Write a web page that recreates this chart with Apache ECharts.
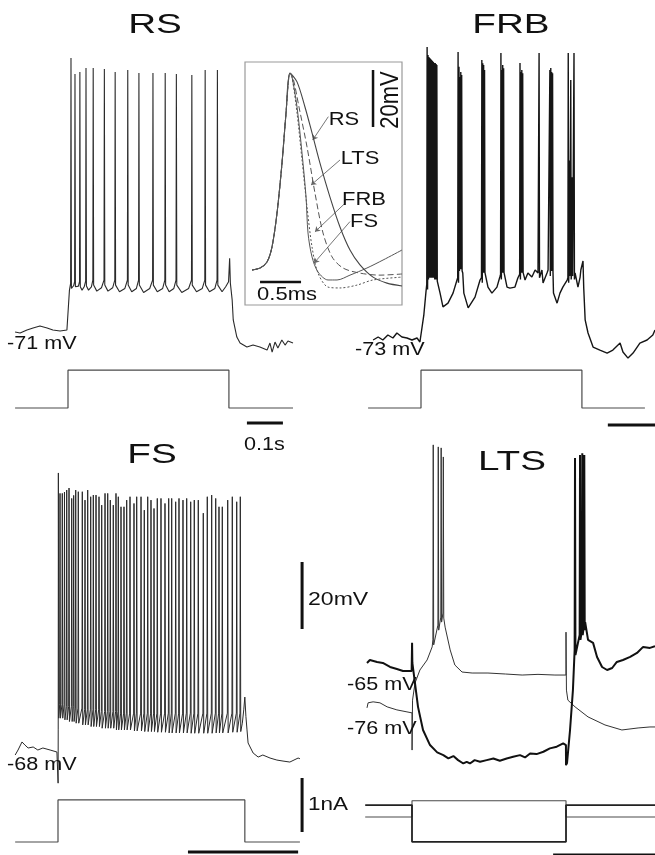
<!DOCTYPE html>
<html><head><meta charset="utf-8">
<script src="https://cdn.jsdelivr.net/npm/echarts@6/dist/echarts.min.js"></script>
<style>html,body{margin:0;padding:0;background:#fff}#c{width:655px;height:855px}</style>
</head><body><div id="c"></div><script>
// ---------------- DATA (time in ms, voltage in mV, current in nA) ----------------
// RS
const rsPre = [[-147,-71],[-133,-71.3],[-114,-70.4],[-97,-69.8],[-78,-69.2],[-58,-69.8],[-42,-70.4],[-22,-70.7],[-3,-70.4],[0,-70.7],[4,-58.5]];
const rsSpikeT = [8.3,19.4,33,50,70,101,131,166,197,236,270,301,344,381,415];
const rsSpikePeak = [10.8,6.0,6.6,7.8,7.8,7.5,6.6,7.2,6.3,6.3,6.3,6.0,5.7,7.2,7.2];
const rsSpikeBase = [-56.5,-56,-56,-55.8,-55.5,-55.5,-55.5,-55.5,-55.5,-55.5,-55.5,-55.5,-55.5,-55.5,-55.5];
const rsTrough = [[12,-57.5],[15.5,-57.2],[24,-58],[29,-57.3],[39,-58.5],[45,-57.5],[57,-58.5],[65,-57.5],[80,-58.8],[93,-57.8],[111,-58.8],[124,-57.8],[143,-59],[158,-58],[177,-59],[190,-58],[210,-59.2],[227,-58],[248,-59],[263,-58],[281,-59],[294,-58],[316,-59.2],[335,-58],[357,-59],[373,-58],[393,-59],[408,-58],[428,-59]];
const rsPost = [[438,-57.5],[446,-56],[449,-49],[451,-56.4],[456,-61.4],[459,-67.4],[469,-72.5],[478,-74.3],[497,-75.5],[514,-74.9],[533,-75.5],[553,-76.4],[561,-74.3],[567,-77.0],[575,-74.0],[583,-75.8],[594,-73.4],[603,-74.9],[611,-73.7],[625,-74.3]];
const rsCurrent = [[-147,0],[0,0],[0,0.7],[447,0.7],[447,0],[625,0]];

// FRB
const frbSlow = [[-133,-73.6],[-119,-72.7],[-106,-73.6],[-92,-72.1],[-78,-73],[-67,-71.5],[-53,-72.7],[-39,-73],[-25,-73.6],[-11,-73],[-3,-74.2],[0,-74.2],[8,-66],[14,-59],
 [47,-55.7],[53,-59.6],[61,-63.7],[75,-62.6],[89,-59.6],[100,-55.7],
 [116,-53.6],[119,-59.6],[131,-64.0],[150,-60.8],[164,-55.7],
 [181,-53.6],[186,-57.8],[197,-59.6],[211,-57.8],[219,-54.8],
 [233,-53.6],[239,-57.8],[247,-58.1],[261,-57.8],[269,-55.1],
 [289,-55.7],[297,-53.6],[308,-54.8],[317,-52.7],[325,-53.6],[336,-52.7],[339,-56.6],[350,-53.6],[353,-52.7],
 [368,-59.6],[378,-62.6],[386,-59.6],[394,-57.8],[406,-55.7],
 [428,-53.6],[433,-53.6],[436,-57.8],[442,-54.8],[444,-52.7],[447,-52.7],[450,-50],[452,-58],
 [456,-67.6],[464,-71.5],[478,-75.7],[497,-76.6],[517,-77.5],[533,-76.6],[553,-74.5],[561,-77.2],[575,-79.0],[589,-77.5],[608,-74.5],[628,-73.6],[644,-72.1],[650,-70.6]];
const frbSpikeT = [17,19.5,22,24.5,27,29.5,32,34.5,37,39.5,42,44,
  103,105.5,108,110.5,113, 169,171.5,174,176.5, 222,224.5,227,229.5, 275,277.5,280,282.5, 328,
  358,360.5,363,365.5, 409,412,416,420,425];
const frbSpikePeak = [13.9,11.5,10.9,10.6,10.3,10.0,9.7,9.4,9.1,9.1,8.8,8.5,
  12.4,8.0,4.9,6.4,5.5, 10.0,9.0,8.5,7.0, 12.1,7.0,8.5,7.5, 9.1,6.4,7.0,6.0, 12.1,
  7.0,7.6,6.4,6.0, 12.1,-20,4.0,-25,12.1];
const frbSpikeBase = [-57,-54,-53.5,-53.5,-53.5,-53.5,-53.5,-53.5,-54,-54,-54,-54.5,
  -55,-51.5,-51,-51,-51.5, -55,-52,-52,-52, -54,-52,-52,-52, -54,-52,-52,-52, -53.5,
  -53,-51.5,-51.5,-52, -55,-53,-54,-53,-54];
const frbCurrent = [[-147,0],[0,0],[0,0.7],[447,0.7],[447,0],[622,0]];

// FS
const fsSlow = [[-119,-69.5],[-111,-68],[-100,-65.6],[-92,-66.5],[-83,-67.4],[-69,-67.1],[-56,-68],[-42,-67.4],[-22,-68],[-3,-68.6],[0,-68.6],[0.3,-77.9],[0.6,-62],[1,14.7],[2.2,-58.5],
 [512,-60],[516,-56],[519,-52.2],[522,-58],[525,-62],[528,-65.9],[542,-68.9],[556,-70.1],[569,-69.5],[589,-70.4],[608,-71],[625,-71.3],[644,-71.6],[667,-70.4],[672,-70.6]];
const fsSpikeT = [5.6,11.9,18,24.2,30.6,38.1,43.5,49.2,56.4,67.5,75,82.5,90.8,98.1,105.6,113.9,121.4,130.6,138.1,145.3,153.6,161.1,167.5,175,183.3,190.8,200,211.1,218.6,230.6,239.7,249.2,258.3,266.7,275.8,286.1,297.2,307.5,315.8,326.9,336.1,347.2,357.5,368.6,378.6,389.7,403.6,414.7,426.9,438.1,447.2,456.4,471.4,484.2,496.4,506.4];
const fsSpikePeak = [8.6,8.6,9.0,9.6,10.2,7.1,8.0,9.6,9.1,9.1,6.6,9.6,7.6,8.1,8.1,7.6,5.1,8.6,8.6,6.6,5.1,8.6,7.6,4.6,4.6,6.6,7.6,5.6,7.6,7.6,3.6,7.6,6.6,4.1,7.1,7.1,5.6,7.1,7.1,6.1,7.1,6.6,7.1,6.1,6.6,6.6,2.7,7.6,8.1,7.1,4.6,4.6,6.6,7.6,6.1,7.6];
const fsSpikeBase = [-54.5,-54.5,-54.5,-55,-55,-55,-55,-55.5,-55.5,-55.5,-56,-56,-56,-56,-56,-56,-56.5,-56.5,-56.5,-56.5,-56.5,-56.5,-56.5,-57,-57,-57,-57,-57,-57,-57,-57,-57,-57,-57,-57,-57,-57,-57,-57,-57,-57,-57,-57,-57,-57,-57,-57,-57,-57,-57,-57,-57,-57,-57,-57,-57];
const fsTrough = [-58.5,-58.5,-59,-59,-59.5,-59.5,-59.5,-60,-60,-60.5,-60.5,-60.5,-61,-61,-61,-61,-61.5,-61.5,-61.5,-61.5,-61.5,-62,-62,-62,-62,-62,-62,-62.3,-62.3,-62.3,-62.5,-62.5,-62.5,-62.5,-62.7,-62.7,-62.7,-62.9,-62.9,-62.9,-62.9,-62.9,-62.9,-63,-63,-63,-63,-63,-63,-62.9,-62.9,-62.9,-62.9,-62.7,-62.7,-62.5];
const fsCurrent = [[-119,0],[0,0],[0,0.78],[519,0.78],[519,0],[672,0]];

// LTS (thick: hyperpolarizing step, thin: depolarizing step)
const ltsThickSlow = [[-125,-63.5],[-117,-62.6],[-97,-63.2],[-81,-63.5],[-61,-64.7],[-42,-65.3],[-25,-65.9],[-1,-65.9],[0,-65.9],[0.2,-57.5],[1,-63.5],
 [8.3,-69.5],[16.7,-76.6],[30.6,-83.5],[50,-88],[70,-90.2],[87,-91.0],[101,-92.0],[115,-91.3],[128,-92.5],[142.5,-93.5],[152,-93.0],[161,-93.5],[174,-92.5],[189,-93.0],[207.5,-92.5],[226,-92.0],[244,-92.7],[263,-92.0],[281,-91.5],[300,-91.0],[314,-91.7],[328,-90.5],[346,-90.7],[365,-90.0],[383,-89.0],[402,-88.5],[420,-87.5],[427.6,-88],[427.8,-94],[430.6,-93.4],[439,-83.5],[447,-71.6],
 [481,-51.3],[489,-56.6],[503,-57.5],[514,-61.7],[528,-64.7],[542,-65.6],[556,-65],[569,-63.2],[586,-62.6],[606,-61.7],[625,-60.5],[642,-58.7],[661,-59.0],[675,-58.5]];
const ltsThickSpikeT = [452.8,466.7,473,478.6];
const ltsThickSpikePeak = [-2.3,-1.4,-0.9,-1.4];
const ltsThickSpikeBase = [-59.6,-55.1,-53.7,-52.2];
const ltsThinSlow = [[-125,-76.9],[-122,-75.4],[-108,-75.1],[-89,-75.4],[-69,-76.6],[-42,-77.5],[-14,-78.1],[0,-78.4],[0.2,-89.5],[1.5,-74.6],[8.3,-69.5],[22,-65.6],[42,-62.6],[56,-58.7],
 [89,-50],[92,-52.8],[106,-59.6],[119,-64.1],[139,-66.2],[167,-66.5],[211,-66.5],[260,-66.8],[306,-67.1],[350,-66.9],[397,-67.1],[427.6,-67.1],[427.8,-54.3],[429,-71.6],[433,-74.6],[453,-76.6],[489,-79.6],[536,-82.0],[583,-83.5],[628,-82.9],[661,-82.6],[675,-82.6]];
const ltsThinSpikeT = [59,73,81,87];
const ltsThinSpikePeak = [1.6,1.0,0.7,-2.0];
const ltsThinSpikeBase = [-56.6,-52.2,-49.8,-48.6];
const ltsThickCurrent = [[-130,0.22],[0,0.22],[0,-0.46],[427.8,-0.46],[427.8,0.22],[675,0.22]];
const ltsThinCurrent = [[-130,0],[0,0],[0,0.3],[427.8,0.3],[427.8,0],[675,0]];

// Inset: spike waveforms (time ms, mV)
const insetRise = [[0,-60],[0.098,-59.3],[0.183,-57.2],[0.244,-51.9],[0.305,-40.0],[0.366,-22.5],[0.415,-4.9],[0.463,9.1]];
const insetRS = [[0.549,6.0],[0.646,-2.8],[0.732,-11.9],[0.829,-22.5],[0.951,-34.4],[1.073,-44.9],[1.195,-53.0],[1.317,-58.2],[1.476,-62.5],[1.646,-64.6],[1.829,-65.6]];
const insetFS = [[0.488,7.7],[0.549,-2.8],[0.610,-19.0],[0.659,-34.4],[0.683,-47.0],[0.732,-55.4],[0.805,-60.7],[0.927,-63.5],[1.037,-63.5],[1.195,-61.8],[1.402,-59.3],[1.598,-56.5],[1.829,-53.0]];
const insetLTS = [[0.5,7.4],[0.573,-2.8],[0.671,-16.8],[0.768,-33.0],[0.866,-47.0],[0.976,-55.4],[1.110,-59.3],[1.317,-61.1],[1.561,-61.8],[1.829,-61.4]];
const insetFRB = [[0.488,7.7],[0.549,-4.9],[0.610,-21.4],[0.671,-37.9],[0.732,-51.9],[0.805,-61.1],[0.927,-66.0],[1.073,-66.3],[1.280,-65.3],[1.476,-63.5],[1.829,-62.5]];
const insetLabels = ['RS','LTS','FRB','FS'];
const insetArrows = [[[0.931,-6.2],[0.740,-14.4]],[[1.073,-21.4],[0.720,-30.2]],[[1.134,-36.6],[0.768,-46.6]],[[1.195,-43.0],[0.756,-57.6]]];

// Scale bars
const rsTimeBar = [[497,-0.28],[597,-0.28]];
const frbTimeBar = [[519,-0.315],[660,-0.315]];
const fsTimeBar = [[361,-0.185],[667,-0.185]];
const ltsTimeBar = [[392,-0.704],[700,-0.704]];
const fsVoltBar = [[678,-31.9],[678,-11.9]];
const fsCurrBar = [[678,0.185],[678,1.185]];
const insetVoltBar = [[1.476,-9.8],[1.476,10.2]];
const insetTimeBar = [[0.098,-64.2],[0.598,-64.2]];

// ---------------- LAYOUT ----------------
const PX_MS = 0.36, PX_MV = 3.35, PX_NA = 54;
// [left,right,top,bottom, pixel x of t=0, px per ms, pixel y of anchor, anchor value, px per unit]
const layout = [
  [0,300,45,372, 68,PX_MS, 332,-71,PX_MV],   // 0 RS V
  [0,300,355,435, 68,PX_MS, 408,0,PX_NA],    // 1 RS I
  [245,402,62,305, 252,82, 270,-60,2.85],    // 2 inset
  [335,655,35,372, 421,PX_MS, 338,-73,PX_MV],// 3 FRB V
  [335,655,355,435, 421,PX_MS, 408,0,PX_NA], // 4 FRB I
  [0,330,465,790, 58,PX_MS, 750,-68,PX_MV],  // 5 FS V
  [0,330,770,862, 58,PX_MS, 842,0,PX_NA],    // 6 FS I
  [335,655,435,790, 412,PX_MS, 668,-65,PX_MV],// 7 LTS V
  [335,655,790,862, 412,PX_MS, 817,0,PX_NA]  // 8 LTS I
];
const grids = [], xAxes = [], yAxes = [];
layout.forEach((g, i) => {
  const [L,R,T,B,x0,pt,y0,v0,pv] = g;
  grids.push({left:L, top:T, width:R-L, height:B-T, show: i===2, borderColor:'#9a9a9a', borderWidth:1.2, backgroundColor:'transparent', outerBoundsMode:'none', containLabel:false});
  xAxes.push({type:'value', gridIndex:i, min:(L-x0)/pt, max:(R-x0)/pt, show:false});
  yAxes.push({type:'value', gridIndex:i, min:v0-(B-y0)/pv, max:v0+(y0-T)/pv, show:false});
});

function withSpikes(slow, T, P, B, A) {
  const pts = slow.map(p => p.slice());
  T.forEach((t, i) => { pts.push([t-1, B[i]], [t, P[i]], [t+1.2, A ? A[i] : B[i]-1.5]); });
  pts.sort((a, b) => a[0]-b[0]);
  return pts;
}
function ln(gi, data, color, width, type, smooth) {
  return {type:'line', xAxisIndex:gi, yAxisIndex:gi, data:data, symbol:'none', showSymbol:false, silent:true,
    smooth: smooth || false, animation:false, lineStyle:{color:color, width:width, type:type||'solid'}};
}

const rsTrace = withSpikes(rsPre.concat(rsTrough, rsPost), rsSpikeT, rsSpikePeak, rsSpikeBase, null);
const frbTrace = withSpikes(frbSlow, frbSpikeT, frbSpikePeak, frbSpikeBase, null);
const fsTrace = withSpikes(fsSlow, fsSpikeT, fsSpikePeak, fsSpikeBase, fsTrough);
const ltsThick = withSpikes(ltsThickSlow, ltsThickSpikeT, ltsThickSpikePeak, ltsThickSpikeBase, null);
const ltsThin = withSpikes(ltsThinSlow, ltsThinSpikeT, ltsThinSpikePeak, ltsThinSpikeBase, null);

const TR = '#2a2a2a', CUR = '#4a4a4a', BAR = '#111';
const series = [
  ln(0, rsTrace, TR, 1.1), ln(1, rsCurrent, CUR, 1.2), ln(1, rsTimeBar, BAR, 3),
  ln(3, frbTrace, '#151515', 1.4), ln(4, frbCurrent, CUR, 1.2), ln(4, frbTimeBar, BAR, 3),
  ln(5, fsTrace, TR, 1.0), ln(6, fsCurrent, CUR, 1.2), ln(6, fsTimeBar, BAR, 3), ln(5, fsVoltBar, BAR, 3), ln(6, fsCurrBar, BAR, 3),
  ln(7, ltsThin, '#333', 1.0), ln(7, ltsThick, '#111', 2.0), ln(8, ltsThinCurrent, CUR, 1.1), ln(8, ltsThickCurrent, '#222', 1.8), ln(8, ltsTimeBar, BAR, 3),
  ln(2, insetRise.concat(insetRS), '#444', 1.1, 'solid', 0.3),
  ln(2, insetRise.concat(insetFS), '#555', 1.0, 'solid', 0.3),
  ln(2, insetRise.concat(insetLTS), '#555', 1.0, [6,3], 0.3),
  ln(2, insetRise.concat(insetFRB), '#555', 1.0, [2,2], 0.3),
  ln(2, insetVoltBar, BAR, 2.5), ln(2, insetTimeBar, BAR, 2.5),
  {type:'lines', coordinateSystem:'cartesian2d', xAxisIndex:2, yAxisIndex:2, silent:true, animation:false,
   symbol:['none','arrow'], symbolSize:5,
   lineStyle:{color:'#666', width:0.9, opacity:1},
   data: insetArrows.map((c, i) => ({name: insetLabels[i], coords: c}))}
];

const FONT = '"Liberation Sans", Arial, Helvetica, sans-serif';
function txt(s, x, y, size, align, sx, rot) {
  return {type:'text', x:x, y:y, scaleX: rot ? 1 : sx, scaleY: rot ? sx : 1, rotation: rot || 0, z:10,
    style:{text:s, x:0, y:0, fill:'#111', font: size + 'px ' + FONT,
      align:align, textAlign:align, verticalAlign:'middle', textVerticalAlign:'middle'}};
}
const graphic = [
  txt('RS', 155, 25, 28, 'center', 1.38), txt('FRB', 511, 25, 28, 'center', 1.38),
  txt('FS', 152, 455, 28, 'center', 1.38), txt('LTS', 512, 462, 28, 'center', 1.38),
  txt('-71 mV', 7, 344, 18, 'left', 1.2), txt('-73 mV', 355, 350, 18, 'left', 1.2),
  txt('-68 mV', 7, 765, 18, 'left', 1.2), txt('-65 mV', 347, 685, 18, 'left', 1.2),
  txt('-76 mV', 347, 729, 18, 'left', 1.2), txt('0.1s', 244, 445, 18, 'left', 1.2),
  txt('20mV', 308, 600, 18, 'left', 1.28), txt('1nA', 308, 805, 18, 'left', 1.25),
  txt('RS', 344, 120, 18, 'center', 1.22), txt('LTS', 360, 159, 18, 'center', 1.22),
  txt('FRB', 364, 200, 18, 'center', 1.22), txt('FS', 364, 222, 18, 'center', 1.22),
  txt('0.5ms', 287, 295, 18, 'center', 1.22),
  txt('20mV', 391, 100, 22, 'center', 1.2, Math.PI/2)
];

const chart = echarts.init(document.getElementById('c'), null, {renderer:'canvas'});
chart.setOption({animation:false, backgroundColor:'#fff', grid:grids, xAxis:xAxes, yAxis:yAxes, series:series, graphic:graphic});
</script></body></html>
